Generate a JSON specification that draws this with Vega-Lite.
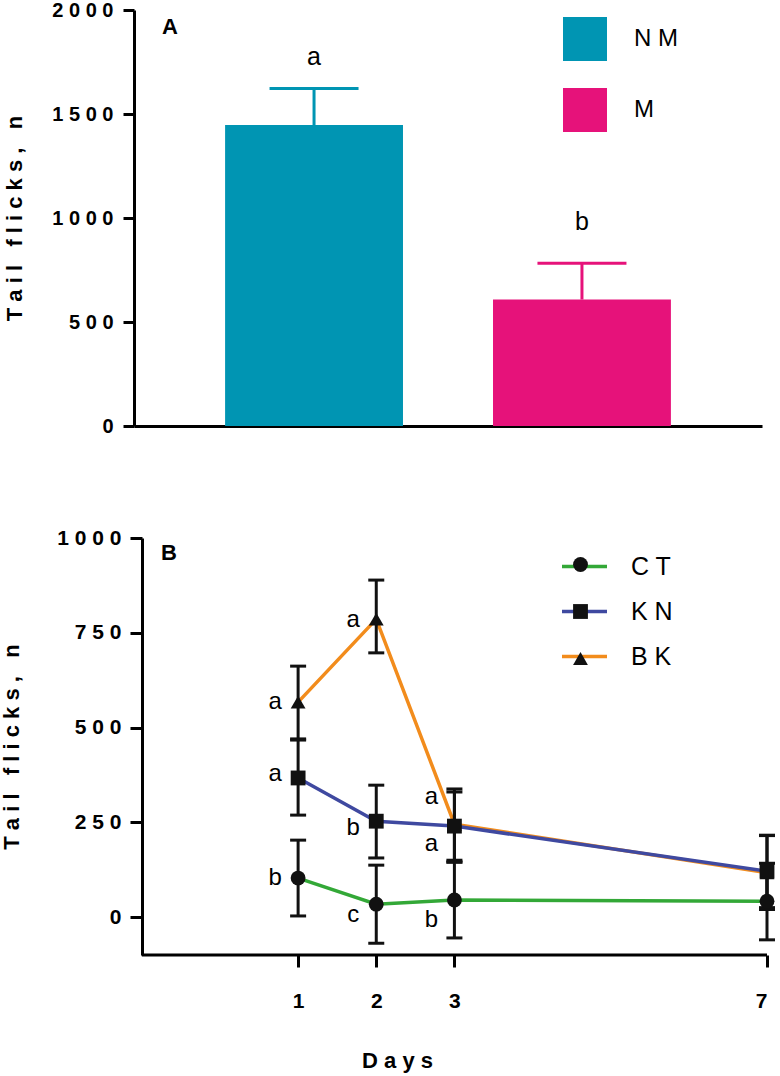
{
  "$schema": "https://vega.github.io/schema/vega-lite/v6.json",
  "background": "white",
  "padding": {"left": 0, "top": 0, "right": 5, "bottom": 5},
  "config": {
    "view": {"stroke": null},
    "font": "Liberation Sans",
    "axis": {"domainColor": "black", "domainWidth": 3, "tickColor": "black", "tickWidth": 3, "grid": false, "labelColor": "black", "titleColor": "black", "labelFont": "Liberation Sans", "titleFont": "Liberation Sans", "labelFontWeight": "bold"},
    "legend": {"labelFont": "Liberation Sans", "labelColor": "black", "padding": 0}
  },
  "datasets": {
    "bars": [
      {"group": "NM", "mean": 1447, "upper": 1622, "letter": "a", "letterY": 1774},
      {"group": "M", "mean": 608, "upper": 783, "letter": "b", "letterY": 981}
    ],
    "series": [
      {"group": "BK", "day": 1, "mean": 567, "lo": 470, "hi": 662},
      {"group": "BK", "day": 2, "mean": 786, "lo": 697, "hi": 889},
      {"group": "BK", "day": 3, "mean": 245, "lo": 150, "hi": 338},
      {"group": "BK", "day": 7, "mean": 117, "lo": 20, "hi": 215},
      {"group": "KN", "day": 1, "mean": 367, "lo": 269, "hi": 467},
      {"group": "KN", "day": 2, "mean": 253, "lo": 156, "hi": 348},
      {"group": "KN", "day": 3, "mean": 240, "lo": 145, "hi": 330},
      {"group": "KN", "day": 7, "mean": 121, "lo": 25, "hi": 216},
      {"group": "CT", "day": 1, "mean": 103, "lo": 3, "hi": 203},
      {"group": "CT", "day": 2, "mean": 34, "lo": -69, "hi": 137},
      {"group": "CT", "day": 3, "mean": 45, "lo": -55, "hi": 145},
      {"group": "CT", "day": 7, "mean": 42, "lo": -60, "hi": 142}
    ],
    "letters": [
      {"day": 1, "y": 567, "t": "a"},
      {"day": 1, "y": 377, "t": "a"},
      {"day": 1, "y": 103, "t": "b"},
      {"day": 2, "y": 784, "t": "a"},
      {"day": 2, "y": 235, "t": "b"},
      {"day": 2, "y": 5, "t": "c"},
      {"day": 3, "y": 317, "t": "a"},
      {"day": 3, "y": 193, "t": "a"},
      {"day": 3, "y": -8, "t": "b"}
    ]
  },
  "align": "none",
  "spacing": 91,
  "resolve": {"scale": {"color": "independent", "shape": "independent"}, "legend": {"color": "independent", "shape": "independent"}},
  "vconcat": [
    {
      "width": 628,
      "height": 416,
      "title": {"text": "A", "anchor": "start", "frame": "group", "fontSize": 22, "fontWeight": "bold", "color": "black", "dx": 28, "dy": 39, "offset": 0},
      "data": {"name": "bars"},
      "layer": [
        {
          "mark": {"type": "bar"},
          "encoding": {
            "x": {"field": "group", "type": "nominal", "sort": ["NM", "M"], "scale": {"paddingInner": 0.336, "paddingOuter": 0.34}, "axis": {"title": null, "labels": false, "ticks": false}},
            "y": {"field": "mean", "type": "quantitative", "scale": {"domain": [0, 2000]}, "axis": {"values": [0, 500, 1000, 1500, 2000], "format": "d", "labelExpr": "join(split(datum.label, ''), ' ')", "title": "T a i l\u00a0\u00a0 f l i c k s ,\u00a0\u00a0 n", "titleFontSize": 22, "titleFontWeight": "bold", "titlePadding": 25, "labelFontSize": 20, "labelPadding": 10, "tickSize": 11}},
            "color": {"field": "group", "type": "nominal", "scale": {"domain": ["NM", "M"], "range": ["#0095b3", "#e6127a"]}, "legend": {"title": null, "orient": "none", "legendX": 429, "legendY": 7, "symbolType": "square", "symbolSize": 1936, "symbolStrokeWidth": 0, "symbolOpacity": 1, "labelFontSize": 24, "labelOffset": 27, "rowPadding": 27, "labelExpr": "join(split(datum.label, ''), ' ')"}}
          }
        },
        {
          "mark": {"type": "rule", "strokeWidth": 3, "opacity": 1},
          "encoding": {
            "x": {"field": "group", "type": "nominal", "sort": ["NM", "M"]},
            "y": {"field": "mean", "type": "quantitative"},
            "y2": {"field": "upper"},
            "color": {"field": "group", "type": "nominal"}
          }
        },
        {
          "mark": {"type": "tick", "thickness": 3, "size": 89, "orient": "horizontal", "opacity": 1},
          "encoding": {
            "x": {"field": "group", "type": "nominal", "sort": ["NM", "M"]},
            "y": {"field": "upper", "type": "quantitative"},
            "color": {"field": "group", "type": "nominal"}
          }
        },
        {
          "mark": {"type": "text", "fontSize": 25, "color": "black", "baseline": "middle", "font": "Liberation Sans"},
          "encoding": {
            "x": {"field": "group", "type": "nominal", "sort": ["NM", "M"]},
            "y": {"field": "letterY", "type": "quantitative"},
            "text": {"field": "letter"}
          }
        }
      ]
    },
    {
      "width": 633,
      "height": 417,
      "title": {"text": "B", "anchor": "start", "frame": "group", "fontSize": 22, "fontWeight": "bold", "color": "black", "dx": 27, "dy": 38, "offset": 0},
      "layer": [
        {
          "data": {"name": "series"},
          "mark": {"type": "line", "strokeWidth": 3.5},
          "encoding": {
            "x": {"field": "day", "type": "quantitative", "scale": {"domain": [-1.1, 7], "nice": false}, "axis": {"values": [1, 2, 3, 7], "format": "d", "domain": false, "title": "D a y s", "titleFontSize": 22, "titleFontWeight": "bold", "titleX": 263, "titleY": 95, "tickSize": 12, "labelPadding": 23, "labelFontSize": 21}},
            "y": {"field": "mean", "type": "quantitative", "scale": {"domain": [-100, 1000], "nice": false}, "axis": {"values": [0, 250, 500, 750, 1000], "format": "d", "offset": -8, "labelExpr": "join(split(datum.label, ''), ' ')", "title": "T a i l\u00a0\u00a0 f l i c k s ,\u00a0\u00a0 n", "titleFontSize": 22, "titleFontWeight": "bold", "titlePadding": 33, "labelFontSize": 21, "labelPadding": 9, "tickSize": 12}},
            "color": {"field": "group", "type": "nominal", "scale": {"domain": ["CT", "KN", "BK"], "range": ["#33a837", "#3f49a0", "#f28c1c"]}, "legend": {"title": null, "orient": "none", "legendX": 426, "legendY": 4, "symbolType": "stroke", "symbolSize": 2025, "symbolStrokeWidth": 3.5, "labelFontSize": 25, "labelOffset": 22, "rowPadding": 7, "labelExpr": "join(split(datum.label, ''), ' ')"}}
          }
        },
        {
          "data": {"values": [{}]},
          "mark": {"type": "rule", "strokeWidth": 3, "color": "black"},
          "encoding": {
            "x": {"datum": -1, "type": "quantitative"},
            "x2": {"datum": 7},
            "y": {"datum": -100, "type": "quantitative"}
          }
        },
        {
          "data": {"name": "series"},
          "mark": {"type": "rule", "strokeWidth": 3, "color": "#111111"},
          "encoding": {
            "x": {"field": "day", "type": "quantitative"},
            "y": {"field": "lo", "type": "quantitative"},
            "y2": {"field": "hi"}
          }
        },
        {
          "data": {"name": "series"},
          "mark": {"type": "tick", "thickness": 3, "size": 16, "orient": "horizontal", "color": "#111111", "opacity": 1},
          "encoding": {
            "x": {"field": "day", "type": "quantitative"},
            "y": {"field": "lo", "type": "quantitative"}
          }
        },
        {
          "data": {"name": "series"},
          "mark": {"type": "tick", "thickness": 3, "size": 16, "orient": "horizontal", "color": "#111111", "opacity": 1},
          "encoding": {
            "x": {"field": "day", "type": "quantitative"},
            "y": {"field": "hi", "type": "quantitative"}
          }
        },
        {
          "data": {"name": "series"},
          "mark": {"type": "point", "filled": true, "color": "#111111", "opacity": 1, "size": 220},
          "encoding": {
            "x": {"field": "day", "type": "quantitative"},
            "y": {"field": "mean", "type": "quantitative"},
            "shape": {"field": "group", "type": "nominal", "sort": ["CT", "KN", "BK"], "scale": {"range": ["circle", "square", "triangle-up"]}, "legend": {"title": null, "orient": "none", "legendX": 439, "legendY": 19, "symbolSize": 220, "symbolFillColor": "#111111", "symbolStrokeWidth": 0, "labelFontSize": 1, "labelOffset": 0, "rowPadding": 32, "labelExpr": "''"}}
          }
        },
        {
          "data": {"name": "letters"},
          "mark": {"type": "text", "fontSize": 24, "color": "black", "baseline": "middle", "dx": -23, "font": "Liberation Sans"},
          "encoding": {
            "x": {"field": "day", "type": "quantitative"},
            "y": {"field": "y", "type": "quantitative"},
            "text": {"field": "t"}
          }
        }
      ]
    }
  ]
}
